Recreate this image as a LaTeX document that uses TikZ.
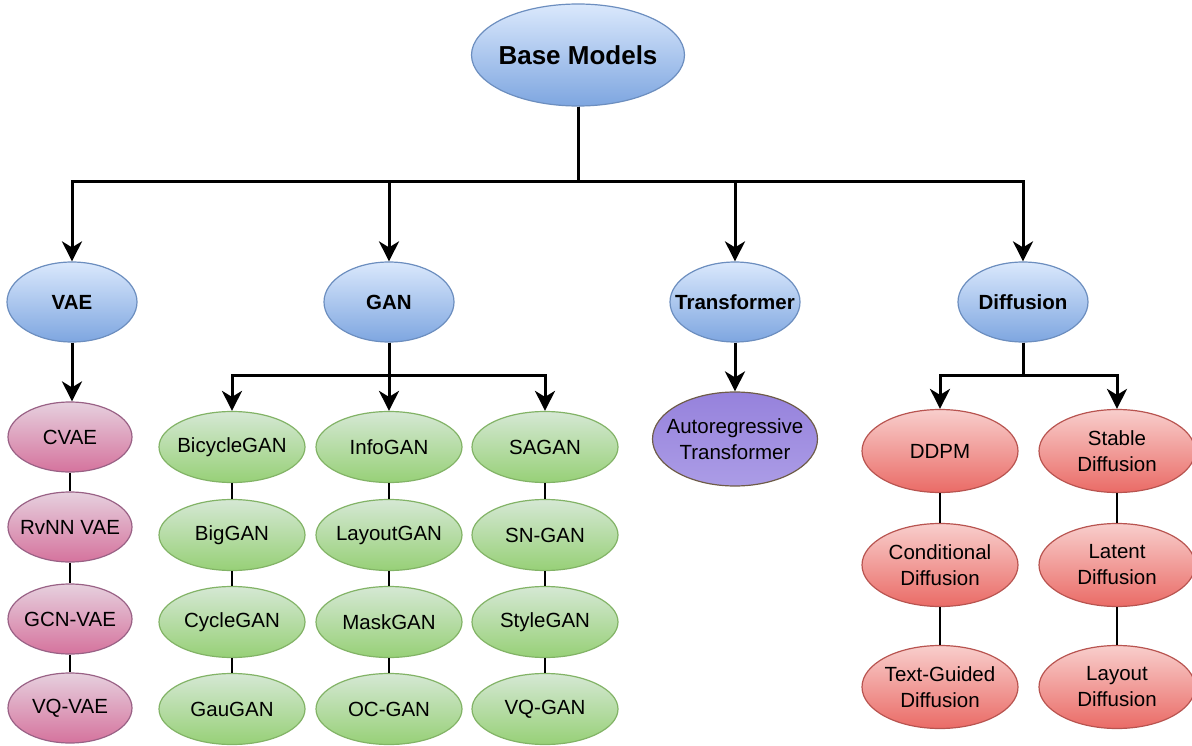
\documentclass[tikz,border=0pt]{standalone}
\usepackage{fontspec}
\setmainfont{Liberation Sans}
\usetikzlibrary{shapes.geometric,arrows.meta}

\definecolor{blueTop}{HTML}{DAE8FC}
\definecolor{blueBot}{HTML}{7EA6E0}
\definecolor{blueLine}{HTML}{6C8EBF}
\definecolor{pinkTop}{HTML}{E6D0DE}
\definecolor{pinkBot}{HTML}{D5739D}
\definecolor{pinkLine}{HTML}{996185}
\definecolor{greenTop}{HTML}{D5E8D4}
\definecolor{greenBot}{HTML}{97D077}
\definecolor{greenLine}{HTML}{82B366}
\definecolor{redTop}{HTML}{F8CECC}
\definecolor{redBot}{HTML}{EA6B66}
\definecolor{redLine}{HTML}{B85450}
\definecolor{purpTop}{HTML}{9682DC}
\definecolor{purpBot}{HTML}{AB9CE6}
\definecolor{purpLine}{HTML}{6E5C48}

\tikzset{
  % the ellipse keeps its given size; its text sits in a centred label
  oval/.style={ellipse, inner sep=0pt, line width=1.2pt,
    label={[txt]center:{#1}}},
  txt/.style={align=center, inner sep=0pt, font=\fontsize{20.5}{26}\selectfont},
  boldtxt/.style={txt, font=\fontsize{20.5}{26}\selectfont\bfseries},
  topnode/.style={ellipse, inner sep=0pt, line width=1.2pt,
    draw=blueLine, top color=blueTop, bottom color=blueBot,
    minimum width=130pt, minimum height=80pt, label={[boldtxt]center:{#1}}},
  rootnode/.style={ellipse, inner sep=0pt, line width=1.2pt,
    draw=blueLine, top color=blueTop, bottom color=blueBot,
    minimum width=213pt, minimum height=102pt,
    label={[txt, font=\fontsize{26}{30}\selectfont\bfseries]center:{#1}}},
  vaenode/.style={oval={#1}, draw=pinkLine, top color=pinkTop, bottom color=pinkBot,
    minimum width=124pt, minimum height=70pt},
  gannode/.style={oval={#1}, draw=greenLine, top color=greenTop, bottom color=greenBot,
    minimum width=146pt, minimum height=71pt},
  diffnode/.style={oval={#1}, draw=redLine, top color=redTop, bottom color=redBot,
    minimum width=156pt, minimum height=83pt},
  trnode/.style={oval={#1}, draw=purpLine, top color=purpTop, bottom color=purpBot,
    minimum width=165pt, minimum height=94pt},
  arr/.style={line width=3pt, -{Stealth[length=20pt,width=20pt,inset=6pt]}},
  link/.style={line width=1.5pt}
}

\begin{document}
\begin{tikzpicture}[x=1pt,y=-1pt]
\useasboundingbox (0,0) rectangle (1192,746);

% root and first level
\node[rootnode={Base Models}] (base) at (578,55) {};
\node[topnode={VAE}]          (vae)   at (72,302)   {};
\node[topnode={GAN}]          (gan)   at (389,302)  {};
\node[topnode={Transformer}]  (trans) at (735,302)  {};
\node[topnode={Diffusion}]    (diff)  at (1023,302) {};

% VAE family
\node[vaenode={CVAE}]     (cvae) at (70,437) {};
\node[vaenode={RvNN VAE}] (rvnn) at (70,527) {};
\node[vaenode={GCN-VAE}]  (gcn)  at (70,619) {};
\node[vaenode={VQ-VAE}]   (vqv)  at (70,708) {};

% GAN family
\node[gannode={BicycleGAN}] (bicycle) at (232,447) {};
\node[gannode={BigGAN}]     (big)     at (232,535) {};
\node[gannode={CycleGAN}]   (cycle)   at (232,622) {};
\node[gannode={GauGAN}]     (gau)     at (232,709) {};
\node[gannode={InfoGAN}]    (info)    at (389,447) {};
\node[gannode={LayoutGAN}]  (layout)  at (389,535) {};
\node[gannode={MaskGAN}]    (mask)    at (389,622) {};
\node[gannode={OC-GAN}]     (oc)      at (389,709) {};
\node[gannode={SAGAN}]      (sagan)   at (545,447) {};
\node[gannode={SN-GAN}]     (sn)      at (545,535) {};
\node[gannode={StyleGAN}]   (style)   at (545,622) {};
\node[gannode={VQ-GAN}]     (vqg)     at (545,709) {};

% Transformer family
\node[trnode={Autoregressive\\Transformer}] (ar) at (735,439) {};

% Diffusion family
\node[diffnode={DDPM}]                   (ddpm)   at (940,451)  {};
\node[diffnode={Conditional\\Diffusion}] (cond)   at (940,565)  {};
\node[diffnode={Text-Guided\\Diffusion}] (text)   at (940,687)  {};
\node[diffnode={Stable\\Diffusion}]      (stable) at (1117,451) {};
\node[diffnode={Latent\\Diffusion}]      (latent) at (1117,565) {};
\node[diffnode={Layout\\Diffusion}]      (lay)    at (1117,687) {};

% branching points
\coordinate (hub)     at (578,182);
\coordinate (ganhub)  at (389,375);
\coordinate (diffhub) at (1023,375);

% root to first level
\draw[arr] (base.south) -- (hub) -| (vae.north);
\draw[arr] (base.south) -- (hub) -| (gan.north);
\draw[arr] (base.south) -- (hub) -| (trans.north);
\draw[arr] (base.south) -- (hub) -| (diff.north);

% first level to heads of each family
\draw[arr] (vae.south) -- (vae.south |- cvae.north);
\draw[arr] (gan.south) -- (ganhub) -| (bicycle.north);
\draw[arr] (gan.south) -- (info.north);
\draw[arr] (gan.south) -- (ganhub) -| (sagan.north);
\draw[arr] (trans.south) -- (ar.north);
\draw[arr] (diff.south) -- (diffhub) -| (ddpm.north);
\draw[arr] (diff.south) -- (diffhub) -| (stable.north);

% chains inside each family
\draw[link] (cvae) -- (rvnn) -- (gcn) -- (vqv);
\draw[link] (bicycle) -- (big) -- (cycle) -- (gau);
\draw[link] (info) -- (layout) -- (mask) -- (oc);
\draw[link] (sagan) -- (sn) -- (style) -- (vqg);
\draw[link] (ddpm) -- (cond) -- (text);
\draw[link] (stable) -- (latent) -- (lay);
\end{tikzpicture}
\end{document}
